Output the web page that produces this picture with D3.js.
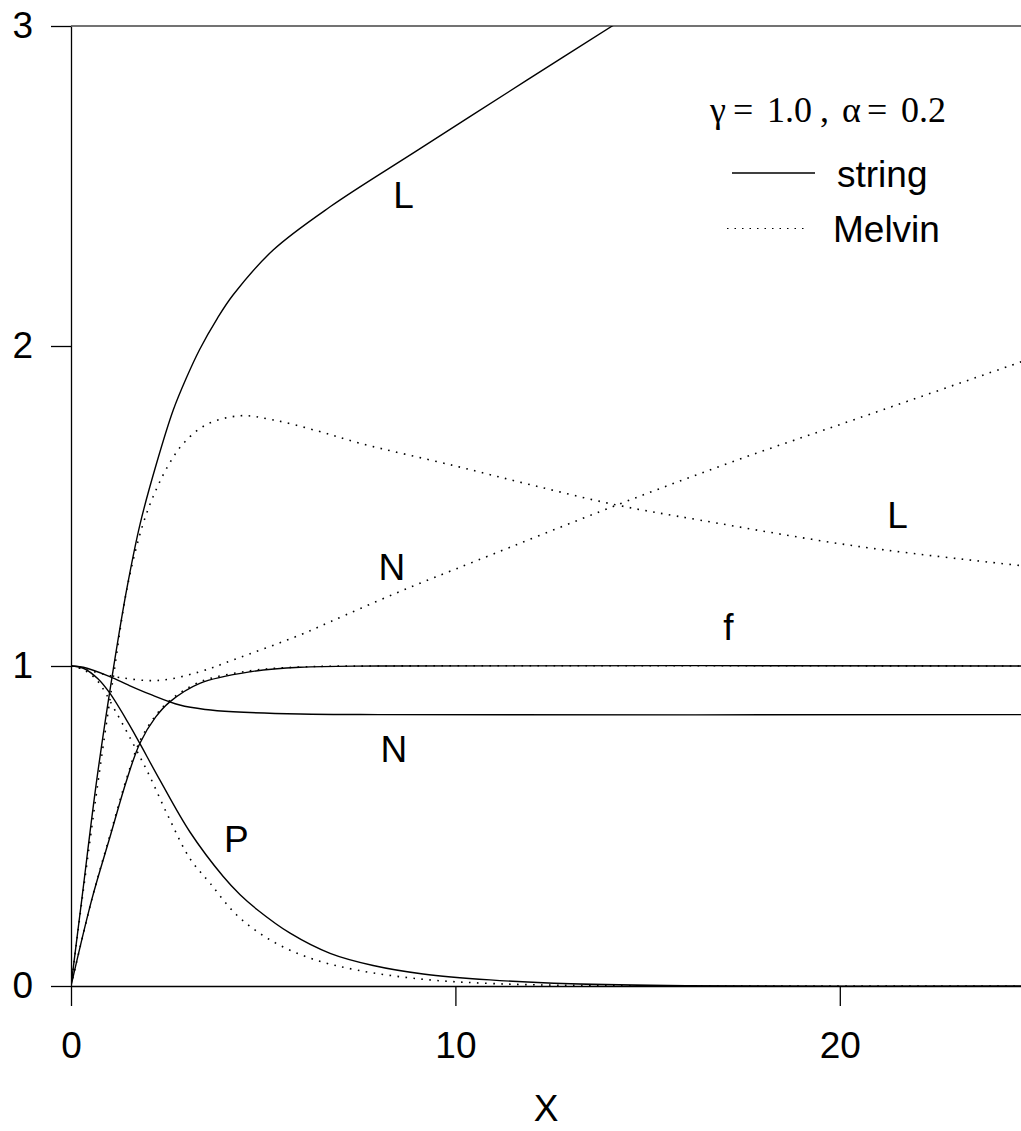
<!DOCTYPE html>
<html>
<head>
<meta charset="utf-8">
<script src="https://cdn.jsdelivr.net/npm/d3@7"></script>
<style>
body{margin:0;background:#fff;}
text{font-family:"Liberation Sans",Arial,sans-serif;fill:#000;}
</style>
</head>
<body>
<script>
// x ticks / y ticks
var xTicks = [0, 10, 20];
var yTicks = [0, 1, 2, 3];

// string solution (solid)
var stringL = [[0,0],[0.28,0.27],[0.67,0.644],[1.1,0.99],[1.45,1.24],[1.8,1.445],[2.23,1.635],[2.66,1.8],[3.0,1.9],[3.35,1.99],[3.8,2.085],[4.22,2.16],[5.26,2.3],[6.74,2.435],[9.02,2.612],[11.85,2.83],[14.08,3.0],[18,3.3]];
var stringN = [[0,1],[0.32,0.996],[1.01,0.967],[1.5,0.94],[2.05,0.912],[2.83,0.878],[3.5,0.864],[4.22,0.857],[5.96,0.85],[8,0.848],[25,0.848]];
var stringF = [[0,0],[0.54,0.27],[1.0,0.46],[1.45,0.644],[1.79,0.758],[2.2,0.84],[2.57,0.888],[3.35,0.946],[4.66,0.982],[5.96,0.996],[8,1],[25,1]];
var stringP = [[0,1],[0.32,0.993],[0.7,0.96],[1.01,0.915],[1.5,0.82],[1.79,0.758],[2.31,0.644],[3.09,0.482],[3.96,0.342],[4.4,0.285],[4.83,0.24],[5.7,0.165],[6.74,0.102],[7.86,0.064],[9.16,0.0375],[10.9,0.019],[13,0.007],[16,0.001],[25,0]];

// Melvin solution (dotted)
var melvinL = [[0,0],[0.3,0.28],[0.7,0.635],[1.1,0.965],[1.47,1.25],[1.88,1.446],[2.23,1.555],[2.57,1.635],[2.92,1.695],[3.5,1.753],[4.4,1.782],[5.26,1.769],[6.4,1.735],[7.52,1.696],[10,1.625],[12,1.565],[14.2,1.503],[16.36,1.456],[20.52,1.373],[25,1.31]];
var melvinN = [[0,1],[0.5,0.985],[1.27,0.964],[2.3,0.955],[3.35,0.982],[4.22,1.019],[5.96,1.097],[6.74,1.138],[8.5,1.23],[10.55,1.329],[14.2,1.503],[17.2,1.638],[20.5,1.775],[25,1.962]];
var melvinF = [[0,0],[0.54,0.27],[1.0,0.465],[1.45,0.65],[1.79,0.765],[2.2,0.845],[2.57,0.892],[3.35,0.95],[4.66,0.985],[6,0.997],[8,1],[25,1]];
var melvinP = [[0,1],[0.3,0.99],[0.67,0.956],[1.19,0.852],[1.79,0.717],[2.05,0.655],[2.55,0.525],[3.09,0.399],[3.62,0.321],[4.31,0.222],[5.18,0.144],[6.22,0.087],[7.43,0.05],[9.16,0.021],[10.9,0.008],[13,0.002],[25,0]];

// curve labels
var labels = [
	{t:"L", x:8.65, y:2.43},
	{t:"L", x:21.5, y:1.43},
	{t:"N", x:8.35, y:1.27},
	{t:"f", x:17.1, y:1.08},
	{t:"N", x:8.4, y:0.70},
	{t:"P", x:4.3, y:0.42}
];

// legend heading pieces
var heading = [
	{t:"\u03b3", x:710}, {t:"=", x:733}, {t:"1.0", x:767},
	{t:",", x:820}, {t:"\u03b1", x:842}, {t:"=", x:867}, {t:"0.2", x:901}
];

main = function(){
	var W = 1021, H = 1131;
	var svg = d3.select("body").append("svg")
		.attr("width", W).attr("height", H);

	var x = d3.scaleLinear().domain([0,25]).range([71,1032]);
	var y = d3.scaleLinear().domain([0,3]).range([986,26]);

	svg.append("clipPath").attr("id","plot")
		.append("rect").attr("x",71).attr("y",26).attr("width",961).attr("height",960);

	//axes
	var yAxis = d3.axisLeft(y).tickValues(yTicks).tickFormat(d3.format("d"))
		.tickSize(20).tickSizeOuter(0).tickPadding(18);
	var xAxis = d3.axisBottom(x).tickValues(xTicks).tickFormat(d3.format("d"))
		.tickSize(20).tickSizeOuter(0).tickPadding(26);

	var gy = svg.append("g").attr("transform","translate(71,0)").call(yAxis);
	var gx = svg.append("g").attr("transform","translate(0,986)").call(xAxis);
	[gx, gy].forEach(function(g){
		g.attr("font-family", null).attr("font-size", null);
		g.selectAll("path,line").attr("stroke","#000").attr("stroke-width",1.3);
		g.selectAll("text").style("font-size","37px");
	});

	// top frame line
	svg.append("line")
		.attr("x1",71).attr("x2",W).attr("y1",y(3)).attr("y2",y(3))
		.attr("stroke","#444").attr("stroke-width",1.5);

	svg.append("text").attr("x",546).attr("y",1121)
		.attr("text-anchor","middle").style("font-size","37px").text("X");

	//curves
	var line = d3.line().x(function(d){return x(d[0]);}).y(function(d){return y(d[1]);})
		.curve(d3.curveCatmullRom.alpha(0.5));
	var plot = svg.append("g").attr("clip-path","url(#plot)");

	[stringL, stringN, stringF, stringP].forEach(function(s){
		plot.append("path").datum(s).attr("d",line)
			.attr("fill","none").attr("stroke","#000").attr("stroke-width",1.4);
	});
	[melvinL, melvinN, melvinF, melvinP].forEach(function(s){
		plot.append("path").datum(s).attr("d",line)
			.attr("fill","none").attr("stroke","#000").attr("stroke-width",1.6)
			.attr("stroke-dasharray","1.6,6.4");
	});

	//labels
	svg.selectAll(".lbl").data(labels).enter().append("text")
		.attr("class","lbl")
		.attr("x",function(d){return x(d.x);})
		.attr("y",function(d){return y(d.y);})
		.attr("text-anchor","middle")
		.style("font-size","37px")
		.text(function(d){return d.t;});

	//legend
	svg.selectAll(".head").data(heading).enter().append("text")
		.attr("class","head")
		.attr("x",function(d){return d.x;}).attr("y",122)
		.style("font-family","'Liberation Serif','Times New Roman',serif")
		.style("font-size","36px")
		.text(function(d){return d.t;});

	svg.append("line").attr("x1",732).attr("x2",815).attr("y1",173).attr("y2",173)
		.attr("stroke","#000").attr("stroke-width",1.4);
	svg.append("text").attr("x",837).attr("y",187).style("font-size","37px").text("string");

	svg.append("line").attr("x1",727).attr("x2",809).attr("y1",228.5).attr("y2",228.5)
		.attr("stroke","#000").attr("stroke-width",1.2).attr("stroke-dasharray","1.5,6");
	svg.append("text").attr("x",833).attr("y",242).style("font-size","37px").text("Melvin");
};

main();
</script>
</body>
</html>
